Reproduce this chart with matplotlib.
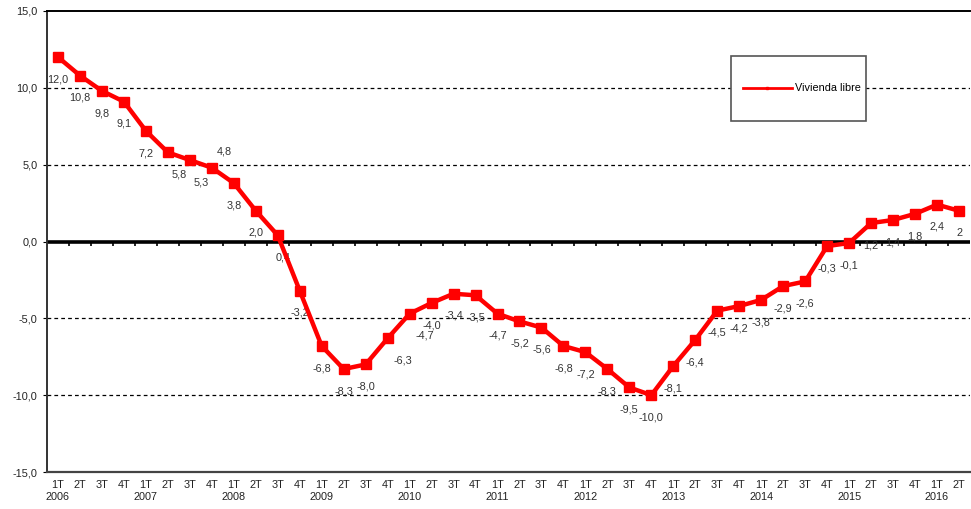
import matplotlib
matplotlib.use("Agg")
import matplotlib.pyplot as plt
from matplotlib.patches import Rectangle
from matplotlib.lines import Line2D

plt.rcParams['font.family'] = ['Liberation Sans', 'DejaVu Sans']

quarters = ["1T", "2T", "3T", "4T"]
years = [str(y) for y in range(2006, 2017)]
values = [12.0, 10.8, 9.8, 9.1, 7.2, 5.8, 5.3, 4.8, 3.8, 2.0, 0.4, -3.2,
          -6.8, -8.3, -8.0, -6.3, -4.7, -4.0, -3.4, -3.5, -4.7, -5.2, -5.6,
          -6.8, -7.2, -8.3, -9.5, -10.0, -8.1, -6.4, -4.5, -4.2, -3.8, -2.9,
          -2.6, -0.3, -0.1, 1.2, 1.4, 1.8, 2.4, 2.0]
value_labels = [f"{v:.1f}".replace(".", ",") for v in values]
value_labels[-1] = "2"
series_name = "Vivienda libre"
yticks = [15, 10, 5, 0, -5, -10, -15]

n = len(values)
x = list(range(n))
tick_labels = []
for i in range(n):
    q = quarters[i % 4]
    tick_labels.append(q + "\n" + years[i // 4] if i % 4 == 0 else q + "\n")

fig = plt.figure(figsize=(9.71, 5.09), dpi=100)
ax = fig.add_axes([47 / 971, 1 - 472 / 509, 923 / 971, 461 / 509])

ax.set_xlim(-0.5, n - 0.5)
ax.set_ylim(-15, 15)

for g in [10, 5, -5, -10]:
    ax.axhline(g, color="black", lw=0.9, ls=(0, (3, 2.5)), zorder=1)
ax.axhline(0, color="black", lw=2.6, zorder=2)
ax.plot([i + 0.5 for i in range(n - 1)], [0] * (n - 1), ls="none",
        marker=3, color="black", ms=3, mew=1.2, zorder=2)

ax.plot(x, values, color="#ff0000", lw=3.2, marker="s", ms=6.5, zorder=4,
        solid_joinstyle="miter")

for i, (v, lab) in enumerate(zip(values, value_labels)):
    dx, dy = 0, -16
    if i in (5, 6):
        dx = 8
    if i == 7:
        dx, dy = 9, 12
    if i in (15, 16):
        dx = 11
    if i == 10:
        dx = 4
    ax.annotate(lab, (i, v), xytext=(dx, dy), textcoords="offset points",
                ha="center", va="center", fontsize=7.8, color="#333333",
                zorder=3)

ax.set_yticks(yticks)
ax.set_yticklabels([f"{t:.1f}".replace(".", ",") for t in yticks],
                   fontsize=7.8, color="#222222")
ax.set_xticks(x)
ax.set_xticklabels(tick_labels, fontsize=7.8, linespacing=1.15,
                   color="#222222")
ax.tick_params(axis="x", length=0, pad=6)
ax.tick_params(axis="y", length=3, width=0.8, pad=4)

ax.spines["right"].set_visible(False)
ax.spines["top"].set_linewidth(1.4)
ax.spines["left"].set_linewidth(1.4)
ax.spines["bottom"].set_linewidth(1.6)
ax.spines["left"].set_color("#333333")
ax.spines["bottom"].set_color("#444444")

# legend box
ax.add_patch(Rectangle((0.741, 0.762), 0.146, 0.141, transform=ax.transAxes,
                       facecolor="white", edgecolor="#555555", lw=1.2,
                       zorder=5))
handle = Line2D([], [], color="#ff0000", lw=2, marker="s", ms=2)
ax.legend([handle], [series_name], loc="center",
          bbox_to_anchor=(0.818, 0.832), frameon=False, fontsize=7.8,
          handlelength=4.5, handletextpad=0.3)

fig.savefig("out.png", dpi=100)
